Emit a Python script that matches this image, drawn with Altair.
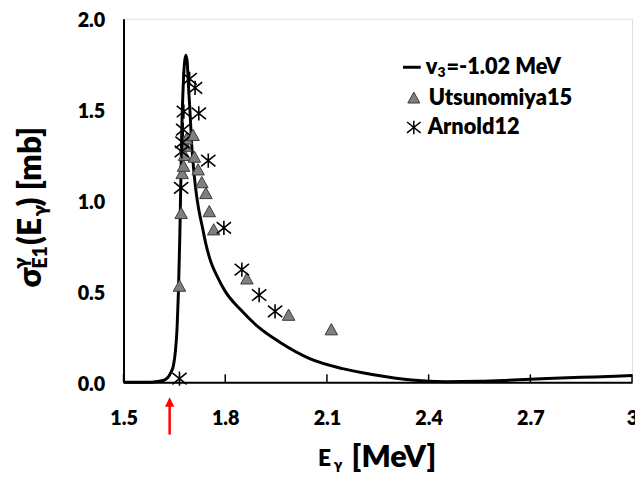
import altair as alt
import pandas as pd

# ---------------- data ----------------
curve_E = [1.50, 1.56, 1.58, 1.60, 1.62, 1.63, 1.64, 1.647, 1.653, 1.658, 1.662, 1.666, 1.669,
           1.672, 1.676, 1.680, 1.684, 1.688, 1.691, 1.696, 1.701, 1.709, 1.716, 1.723, 1.733,
           1.743, 1.758, 1.777, 1.80, 1.845, 1.90, 1.961, 2.049, 2.146, 2.243, 2.35, 2.45,
           2.55, 2.65, 2.75, 2.85, 2.95, 3.0]
curve_s = [0.0, 0.0, 0.0, 0.004, 0.012, 0.025, 0.055, 0.09, 0.17, 0.30, 0.50, 0.80, 1.10,
           1.40, 1.63, 1.76, 1.80, 1.76, 1.65, 1.49, 1.31, 1.13, 1.02, 0.94, 0.85,
           0.76, 0.66, 0.58, 0.50, 0.40, 0.30, 0.22, 0.13, 0.075, 0.04, 0.012, 0.003,
           0.005, 0.012, 0.02, 0.027, 0.033, 0.037]

uts_E = [1.665, 1.670, 1.673, 1.677, 1.680, 1.683, 1.686, 1.705, 1.709, 1.720, 1.731,
         1.743, 1.753, 1.766, 1.864, 1.987, 2.113]
uts_s = [0.53, 0.93, 1.15, 1.19, 1.25, 1.30, 1.34, 1.36, 1.24, 1.17, 1.10,
         1.04, 0.94, 0.84, 0.57, 0.37, 0.29]

arn_E = [1.665, 1.670, 1.672, 1.674, 1.676, 1.678, 1.695, 1.711, 1.722, 1.750, 1.796,
         1.849, 1.900, 1.947]
arn_s = [0.02, 1.07, 1.27, 1.32, 1.39, 1.49, 1.67, 1.62, 1.48, 1.22, 0.85,
         0.62, 0.48, 0.39]

threshold_E = [1.636]

x_ticks = [1.5, 1.8, 2.1, 2.4, 2.7, 3.0]
y_ticks = [0.0, 0.5, 1.0, 1.5, 2.0]

legend_labels = ["v", "3", "=-1.02 MeV", "Utsunomiya15", "Arnold12"]

FONT = "Lato"
WEIGHT = 800
W, H = 515, 368
TRI = "M-1,0.85L0,-0.95L1,0.85Z"
STAR = "M-1,-0.8L1,0.8M-1,0.8L1,-0.8M0,-1L0,1"

xs = alt.Scale(domain=[1.5, 3.0], nice=False, zero=False)
ys = alt.Scale(domain=[0, 2.0], nice=False)

xaxis = alt.Axis(values=x_ticks, labelExpr="datum.value == 3 ? '3' : format(datum.value, '.1f')",
                 ticks=False, tickSize=0, grid=False, title=None, labelFontSize=20,
                 labelFont=FONT, labelFontWeight=WEIGHT, labelColor="black",
                 labelPadding=27, labelFlush=False, labelOverlap=False,
                 domainColor="black", domainWidth=2)
yaxis = alt.Axis(values=y_ticks, format=".1f", ticks=False, tickSize=0, grid=False, title=None,
                 labelFontSize=20, labelFont=FONT, labelFontWeight=WEIGHT, labelColor="black",
                 labelPadding=19, labelOffset=2, domainColor="black", domainWidth=2)

curve_df = pd.DataFrame({"E": curve_E, "s": curve_s})
uts_df = pd.DataFrame({"E": uts_E, "s": uts_s})
arn_df = pd.DataFrame({"E": arn_E, "s": arn_s})
tick_df = pd.DataFrame({"E": x_ticks})
thr_df = pd.DataFrame({"E": threshold_E})

curve = alt.Chart(curve_df).mark_line(color="black", strokeWidth=3, interpolate="monotone").encode(
    x=alt.X("E:Q", scale=xs, axis=xaxis),
    y=alt.Y("s:Q", scale=ys, axis=yaxis),
)
uts = alt.Chart(uts_df).mark_point(shape=TRI, filled=True, fill="#7f7f7f", stroke="#3a3a3a",
                                   strokeWidth=1, size=160, opacity=1).encode(
    x=alt.X("E:Q", scale=xs), y=alt.Y("s:Q", scale=ys))
arn = alt.Chart(arn_df).mark_point(shape=STAR, filled=False, stroke="black", strokeWidth=1.6,
                                   size=210, opacity=1).encode(
    x=alt.X("E:Q", scale=xs), y=alt.Y("s:Q", scale=ys))

inner_ticks = alt.Chart(tick_df).mark_rule(color="black", strokeWidth=1.5).encode(
    x=alt.X("E:Q", scale=xs), y=alt.value(H), y2=alt.value(H - 8))

arrow_shaft = alt.Chart(thr_df).mark_rule(color="red", strokeWidth=2.5, clip=False).encode(
    x=alt.X("E:Q", scale=xs), y=alt.value(390), y2=alt.value(421))
arrow_head = alt.Chart(thr_df).mark_point(shape="M0,-1L1,1L-1,1Z", filled=True, color="red",
                                          size=90, opacity=1, clip=False).encode(
    x=alt.X("E:Q", scale=xs), y=alt.value(388))

# ---------- legend (drawn by hand) ----------
one = alt.Data(values=[{"a": 1}])
leg_line = alt.Chart(one).mark_rule(color="black", strokeWidth=3).encode(
    x=alt.value(283), x2=alt.value(301), y=alt.value(49))
leg_tri = alt.Chart(one).mark_point(shape=TRI, filled=True, fill="#7f7f7f", stroke="#3a3a3a",
                                    strokeWidth=1, size=150, opacity=1).encode(
    x=alt.value(294), y=alt.value(80))
leg_star = alt.Chart(one).mark_point(shape=STAR, filled=False, stroke="black", strokeWidth=1.5,
                                     size=190, opacity=1).encode(
    x=alt.value(294), y=alt.value(110))

leg_df = pd.DataFrame({
    "t": legend_labels,
    "px": [306, 318, 327, 309, 308],
    "py": [49, 55, 49, 80, 110],
    "fs": [22, 14, 22, 22, 22],
})
leg_text = alt.Chart(leg_df).mark_text(align="left", baseline="middle", font=FONT,
                                       fontWeight=WEIGHT, color="black").encode(
    text="t:N", x=alt.X("px:Q", scale=None), y=alt.Y("py:Q", scale=None),
    size=alt.Size("fs:Q", scale=None, legend=None))

# ---------- axis titles with sub/superscripts ----------
xt_df = pd.DataFrame({
    "t": ["E", "γ", "[MeV]"],
    "px": [197, 213, 231],
    "py": [453, 457, 454],
    "fs": [23, 15, 31],
})
x_title = alt.Chart(xt_df).mark_text(align="left", baseline="alphabetic", font=FONT,
                                     fontWeight=WEIGHT, color="black").encode(
    text="t:N", x=alt.X("px:Q", scale=None), y=alt.Y("py:Q", scale=None),
    size=alt.Size("fs:Q", scale=None, legend=None))

y0 = 272
yt_df = pd.DataFrame({
    "t": ["σ", "γ", "E1", "(E", "γ", ") [mb]"],
    "px": [-84, -97, -77, -84, -77, -84],
    "py": [y0, y0 - 19, y0 - 19, y0 - 43, y0 - 72, y0 - 82],
    "fs": [32, 20, 20, 32, 20, 32],
})
y_title = alt.Chart(yt_df).mark_text(align="left", baseline="alphabetic", font=FONT, angle=270,
                                     fontWeight=WEIGHT, color="black").encode(
    text="t:N", x=alt.X("px:Q", scale=None), y=alt.Y("py:Q", scale=None),
    size=alt.Size("fs:Q", scale=None, legend=None))

chart = alt.layer(
    curve, inner_ticks, uts, arn, arrow_shaft, arrow_head,
    leg_line, leg_tri, leg_star, leg_text, x_title, y_title,
).properties(
    width=W, height=H,
    autosize=alt.AutoSizeParams(type="none"),
    padding={"left": 117, "top": 8, "right": 3, "bottom": 96},
    background="white",
).configure_view(
    stroke="black", strokeWidth=2
).configure(font=FONT)

chart.save("out.html", embed_options={"renderer": "svg", "actions": False})
